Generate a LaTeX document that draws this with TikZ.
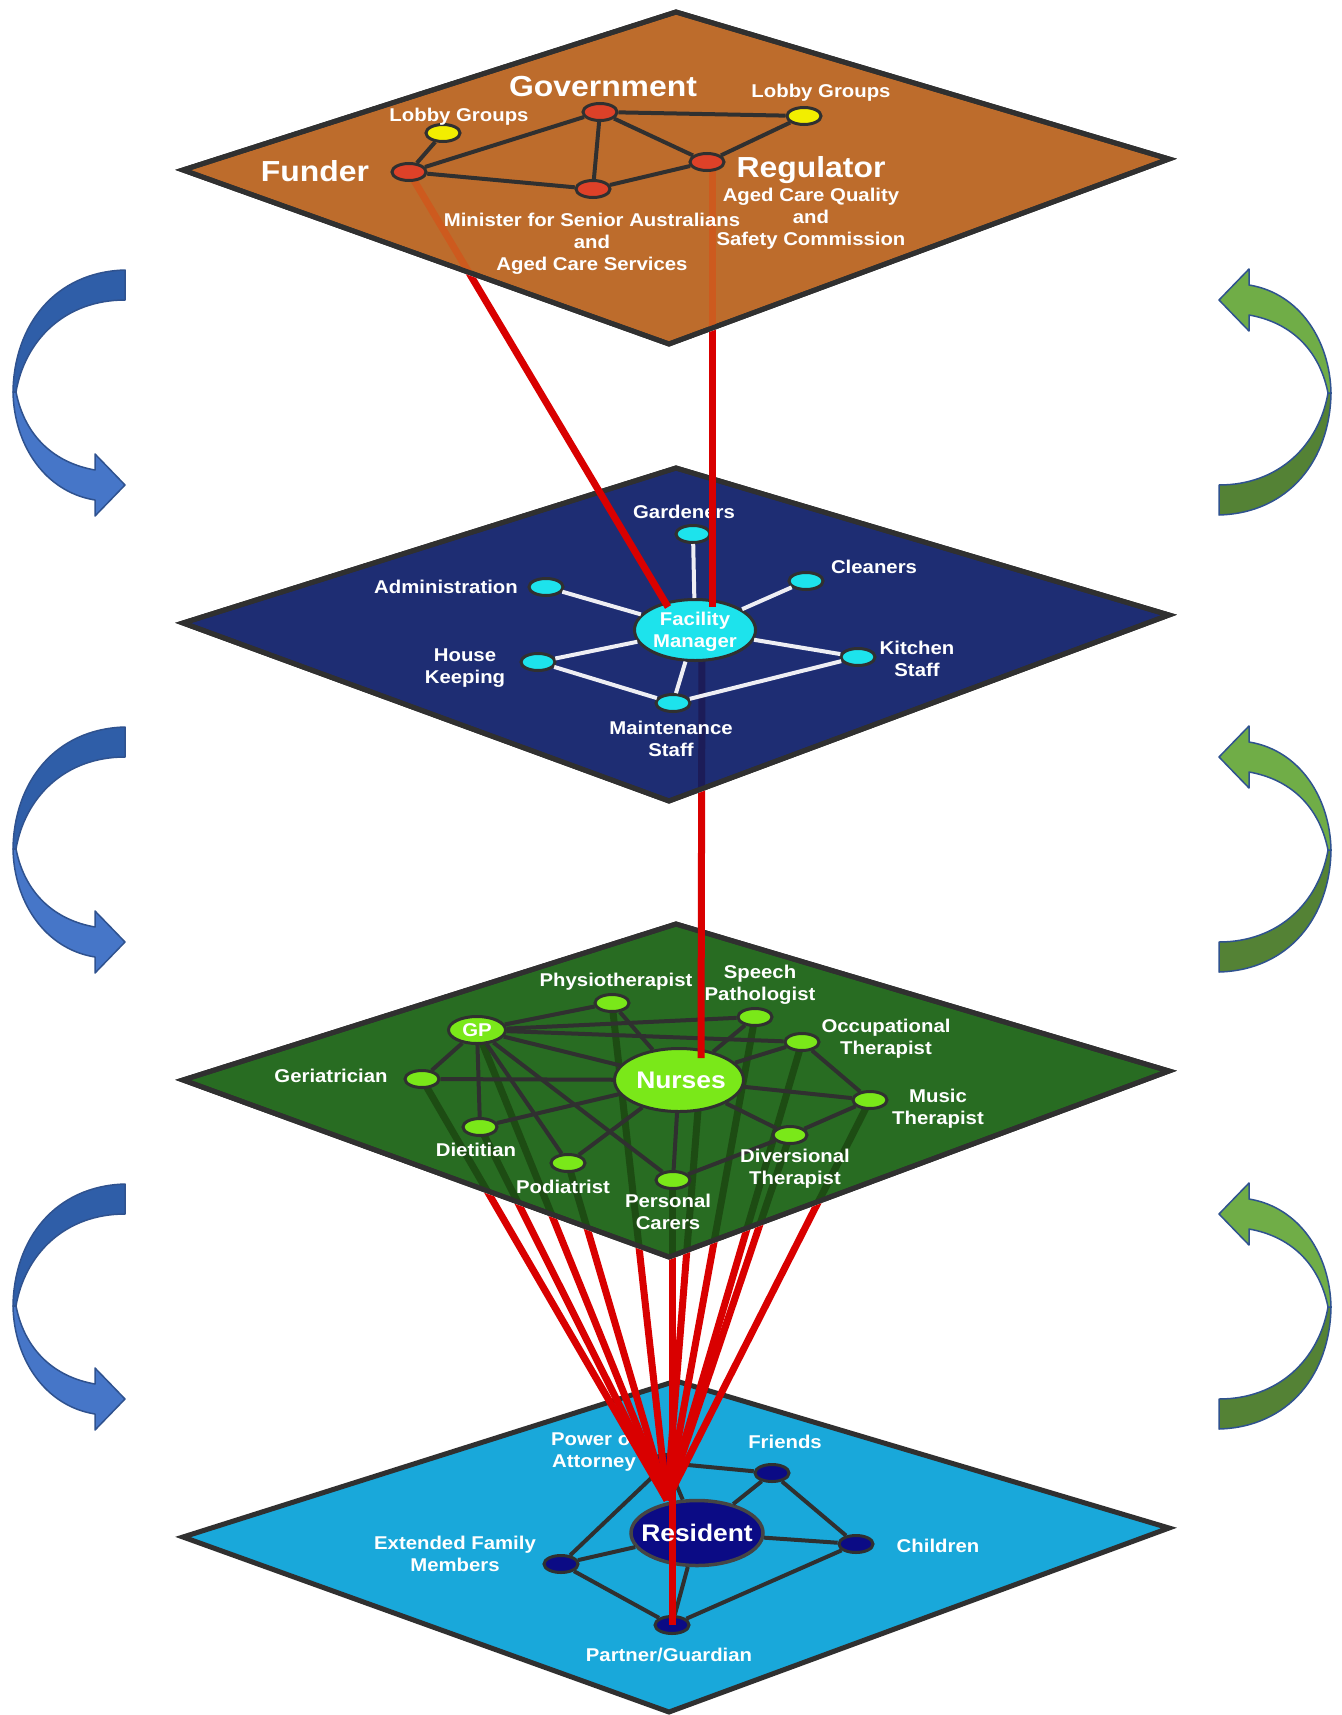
\documentclass[tikz,border=0pt]{standalone}
\usepackage{fontspec}
\setmainfont{Liberation Sans}[FakeStretch=1.1]
\usetikzlibrary{shapes.geometric}
\definecolor{planeA}{HTML}{BD6C2C}
\definecolor{planeB}{HTML}{1E2D73}
\definecolor{planeC}{HTML}{286C22}
\definecolor{planeD}{HTML}{19A8DA}
\definecolor{shadowA}{HTML}{CD5A1E}
\definecolor{shadowB}{HTML}{1C1C58}
\definecolor{shadowC}{HTML}{1D4C13}
\definecolor{linkred}{HTML}{D90000}
\definecolor{edgegray}{HTML}{303030}
\definecolor{lightline}{HTML}{EEEEF4}
\definecolor{govred}{HTML}{DE4128}
\definecolor{lobbyyel}{HTML}{F2EE00}
\definecolor{staffcyan}{HTML}{1DE3EC}
\definecolor{carelime}{HTML}{7AE819}
\definecolor{famnavy}{HTML}{0B0B85}
\definecolor{arrowblueD}{HTML}{2F5EA8}
\definecolor{arrowblueL}{HTML}{4676C8}
\definecolor{arrowline}{HTML}{2F528F}
\definecolor{arrowgreenL}{HTML}{70AD47}
\definecolor{arrowgreenD}{HTML}{548235}
\newcommand{\lblfont}{\bfseries\fontsize{18.5}{22}\selectfont}
\newcommand{\bigfnt}{\bfseries\fontsize{29}{33}\selectfont}
\newcommand{\midfnt}{\bfseries\fontsize{24}{28}\selectfont}
\tikzset{
  planeshape/.style={draw=edgegray, line width=5pt},
  lbl/.style={text=white, font=\lblfont, align=center, inner sep=0pt},
  biglbl/.style={text=white, font=\bigfnt, inner sep=0pt},
  midlbl/.style={text=white, font=\midfnt, inner sep=0pt},
  smalldot/.style={ellipse, draw=edgegray, line width=3pt, minimum width=34pt, minimum height=17pt, inner sep=0pt},
  bigdot/.style={ellipse, draw=edgegray, line width=3pt, inner sep=0pt},
  darkedge/.style={draw=edgegray, line width=4pt},
  lightedge/.style={draw=lightline, line width=4pt},
  redlink/.style={draw=linkred, line width=7pt},
  shadowlink/.style={line width=7pt},
  bandtail/.style={}, bandhead/.style={},
  cyclearrow/.pic={
    \filldraw[draw=arrowline, line width=1.5pt, line join=round, bandtail]
      (125,270) .. controls (55,272) and (14,325) .. (13,392)
      -- (16,392) .. controls (25,340) and (65,300) .. (125,300) -- cycle;
    \filldraw[draw=arrowline, line width=1.5pt, line join=round, bandhead]
      (13,392) .. controls (14,445) and (45,492) .. (95,500)
      -- (95,516) -- (125,485) -- (95,454) -- (95,470)
      .. controls (55,463) and (25,437) .. (16,392) -- cycle;
  },
}
\begin{document}
\begin{tikzpicture}[x=1pt,y=-1pt]
\useasboundingbox (0,0) rectangle (1341,1715);
\fill[white] (0,0) rectangle (1341,1715);

% ---- side arrows ----
\foreach \dy in {0,457,914}{
  \pic[bandtail/.style={fill=arrowblueD}, bandhead/.style={fill=arrowblueL}] at (0,\dy) {cyclearrow};
  \pic[rotate=180, bandtail/.style={fill=arrowgreenD}, bandhead/.style={fill=arrowgreenL}] at (1344,785+\dy) {cyclearrow};
}

% ---- coordinates ----
\coordinate (cFunder) at (409,172);
\coordinate (regTop) at (712,165);
\coordinate (fmInL) at (668,607);
\coordinate (fmInR) at (712,607);
\coordinate (fmLow) at (702,640);
\coordinate (nurTop) at (701,1058);
\coordinate (nurLow) at (700,1085);
\coordinate (conv) at (667,1500);
\coordinate (cGeri) at (422,1079);
\coordinate (cGP) at (477,1030);
\coordinate (cDiet) at (480,1127);
\coordinate (cPod) at (568,1163);
\coordinate (cPhys) at (612,1003);
\coordinate (cSpeech) at (755,1017);
\coordinate (cOcc) at (802,1042);
\coordinate (cDiv) at (790,1135);
\coordinate (cMusic) at (870,1100);
\coordinate (cCare) at (672,1180);
\coordinate (cPtnr) at (672,1625);

% ---- planes ----
\filldraw[planeshape, fill=planeA] (676,12) -- (1169,159) -- (669,344) -- (183,170) -- cycle;
\filldraw[planeshape, fill=planeB] (676,468) -- (1169,615) -- (669,801) -- (183,623) -- cycle;
\filldraw[planeshape, fill=planeC] (676,924) -- (1169,1071) -- (669,1257) -- (183,1080) -- cycle;
\filldraw[planeshape, fill=planeD] (676,1381) -- (1169,1528) -- (669,1712) -- (183,1537) -- cycle;

% ---- links seen through the planes ----
\begin{scope}
  \clip (676,12) -- (1169,159) -- (669,344) -- (183,170) -- cycle;
  \draw[shadowlink, draw=shadowA] (cFunder) -- (fmInL);
  \draw[shadowlink, draw=shadowA] (regTop) -- (fmInR);
\end{scope}
\draw[planeshape] (676,12) -- (1169,159) -- (669,344) -- (183,170) -- cycle;
\begin{scope}
  \clip (676,468) -- (1169,615) -- (669,801) -- (183,623) -- cycle;
  \draw[shadowlink, draw=shadowB] (fmLow) -- (nurTop);
\end{scope}
\draw[planeshape] (676,468) -- (1169,615) -- (669,801) -- (183,623) -- cycle;
\begin{scope}
  \clip (676,924) -- (1169,1071) -- (669,1257) -- (183,1080) -- cycle;
  \foreach \c in {cGeri,cGP,cDiet,cPod,cPhys,nurLow,cSpeech,cOcc,cDiv,cMusic}
    \draw[shadowlink, draw=shadowC] (\c) -- (conv);
  \draw[shadowlink, draw=shadowC] (cCare) -- (cPtnr);
\end{scope}
\draw[planeshape] (676,924) -- (1169,1071) -- (669,1257) -- (183,1080) -- cycle;

% ---- layer 1 ----
\node[smalldot, fill=govred] (gov) at (600,112) {};
\node[smalldot, fill=lobbyyel] (lobbyL) at (443,133) {};
\node[smalldot, fill=lobbyyel] (lobbyR) at (804,116) {};
\node[smalldot, fill=govred] (funder) at (cFunder) {};
\node[smalldot, fill=govred] (minister) at (593,189) {};
\node[smalldot, fill=govred] (regulator) at (707,162) {};
\draw[darkedge] (funder) -- (lobbyL);
\draw[darkedge] (funder) -- (gov);
\draw[darkedge] (funder) -- (minister);
\draw[darkedge] (gov) -- (minister);
\draw[darkedge] (gov) -- (regulator);
\draw[darkedge] (gov) -- (lobbyR);
\draw[darkedge] (lobbyR) -- (regulator);
\draw[darkedge] (minister) -- (regulator);
\node[biglbl] (govT) at (603,87) {Government};
\node[lbl] (lobbyLT) at (459,117) {Lobby Groups};
\node[lbl] (lobbyRT) at (821,93) {Lobby Groups};
\node[biglbl] (funderT) at (315,171) {Funder};
\node[biglbl] (regT) at (811,170) {Regulator};
\node[lbl] (ministerT) at (592,244) {Minister for Senior Australians\\and\\Aged Care Services};
\node[lbl] (qualityT) at (811,219) {Aged Care Quality\\and\\Safety Commission};

% ---- layer 2 ----
\node[bigdot, fill=staffcyan, minimum width=121pt, minimum height=61pt] (fm) at (695,630) {};
\node[smalldot, fill=staffcyan] (gard) at (693,534) {};
\node[smalldot, fill=staffcyan] (clean) at (806,581) {};
\node[smalldot, fill=staffcyan] (admin) at (546,587) {};
\node[smalldot, fill=staffcyan] (kitchen) at (858,657) {};
\node[smalldot, fill=staffcyan] (house) at (538,662) {};
\node[smalldot, fill=staffcyan] (maint) at (673,703) {};
\draw[lightedge] (fm) -- (gard);
\draw[lightedge] (fm) -- (clean);
\draw[lightedge] (fm) -- (admin);
\draw[lightedge] (fm) -- (kitchen);
\draw[lightedge] (fm) -- (house);
\draw[lightedge] (fm) -- (maint);
\draw[lightedge] (house) -- (maint);
\draw[lightedge] (maint) -- (kitchen);
\node[lbl] (fmT) at (695,632) {Facility\\Manager};
\node[lbl] (gardT) at (684,512) {Gardeners};
\node[lbl] (cleanT) at (874,567) {Cleaners};
\node[lbl] (adminT) at (446,587) {Administration};
\node[lbl] (kitchenT) at (917,659) {Kitchen\\Staff};
\node[lbl] (houseT) at (465,668) {House\\Keeping};
\node[lbl] (maintT) at (671,739) {Maintenance\\Staff};

% red links from layer 1
\begin{scope}
  \clip (0,173) -- (183,173) -- (669,347) -- (1169,162) -- (1341,162) -- (1341,1715) -- (0,1715) -- cycle;
  \draw[redlink] (funder.center) -- (fmInL);
  \draw[redlink] (regTop) -- (fmInR);
\end{scope}

% ---- layer 3 ----
\node[bigdot, fill=carelime, minimum width=57pt, minimum height=27pt] (gp) at (cGP) {};
\node[bigdot, fill=carelime, minimum width=129pt, minimum height=63pt] (nurses) at (679,1080) {};
\node[smalldot, fill=carelime] (phys) at (cPhys) {};
\node[smalldot, fill=carelime] (speech) at (cSpeech) {};
\node[smalldot, fill=carelime] (occ) at (cOcc) {};
\node[smalldot, fill=carelime] (geri) at (cGeri) {};
\node[smalldot, fill=carelime] (music) at (cMusic) {};
\node[smalldot, fill=carelime] (diet) at (cDiet) {};
\node[smalldot, fill=carelime] (div) at (cDiv) {};
\node[smalldot, fill=carelime] (pod) at (cPod) {};
\node[smalldot, fill=carelime] (care) at (673,1180) {};
\foreach \a/\b in {gp/phys,gp/speech,gp/occ,gp/nurses,gp/geri,gp/diet,gp/pod,gp/care,
                   geri/nurses,diet/nurses,pod/nurses,care/nurses,phys/nurses,speech/nurses,
                   occ/nurses,nurses/music,nurses/div,occ/music,music/div,div/care}
  \draw[darkedge] (\a) -- (\b);
\node[lbl] (gpT) at (477,1030) {GP};
\node[midlbl] (nursesT) at (681,1080) {Nurses};
\node[lbl] (physT) at (616,982) {Physiotherapist};
\node[lbl] (speechT) at (760,985) {Speech\\Pathologist};
\node[lbl] (occT) at (886,1039) {Occupational\\Therapist};
\node[lbl] (geriT) at (331,1076) {Geriatrician};
\node[lbl] (musicT) at (938,1109) {Music\\Therapist};
\node[lbl] (dietT) at (476,1150) {Dietitian};
\node[lbl] (divT) at (795,1169) {Diversional\\Therapist};
\node[lbl] (podT) at (563,1187) {Podiatrist};
\node[lbl] (careT) at (668,1212) {Personal\\Carers};

% red link from layer 2
\begin{scope}
  \clip (0,626) -- (183,626) -- (669,804) -- (1169,618) -- (1341,618) -- (1341,1715) -- (0,1715) -- cycle;
  \draw[redlink] (fmLow) -- (nurTop);
\end{scope}

% ---- layer 4 ----
\node[bigdot, fill=famnavy, draw=edgegray!90, line width=3.5pt, minimum width=132pt, minimum height=65pt] (res) at (697,1533) {};
\node[smalldot, fill=famnavy] (friends) at (772,1473) {};
\node[smalldot, fill=famnavy] (children) at (856,1544) {};
\node[smalldot, fill=famnavy] (extfam) at (561,1564) {};
\node[smalldot, fill=famnavy] (partner) at (cPtnr) {};
\node[smalldot, fill=famnavy] (poa) at (667,1463) {};
\foreach \a/\b in {res/friends,res/children,res/extfam,res/partner,res/poa,
                   friends/children,children/partner,extfam/partner,extfam/poa,poa/friends}
  \draw[darkedge] (\a) -- (\b);
\node[lbl] (poaT) at (594,1452) {Power of\\Attorney};
\node[lbl] (friendsT) at (785,1442) {Friends};
\node[lbl] (childrenT) at (938,1546) {Children};
\node[lbl] (extfamT) at (455,1554) {Extended Family\\Members};
\node[lbl] (partnerT) at (669,1655) {Partner/Guardian};

% red links from layer 3
\begin{scope}
  \clip (0,1083) -- (183,1083) -- (669,1260) -- (1169,1074) -- (1341,1074) -- (1341,1715) -- (0,1715) -- cycle;
  \foreach \n in {geri,gp,diet,pod,phys,speech,occ,div,music}
    \draw[redlink] (\n.center) -- (conv);
  \draw[redlink] (nurLow) -- (conv);
  \draw[redlink] (cCare) -- (partner.center);
\end{scope}
\node[midlbl] (resT) at (697,1533) {Resident};
\end{tikzpicture}
\end{document}
